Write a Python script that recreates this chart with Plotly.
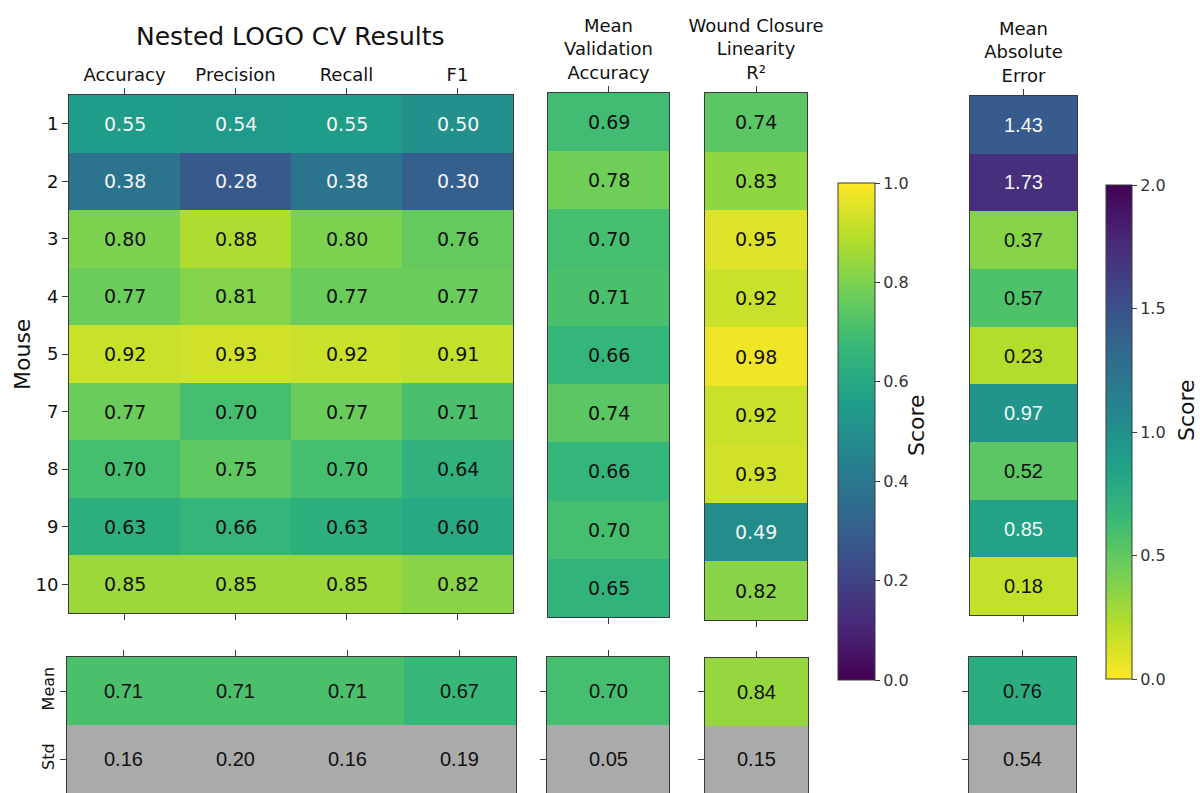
import plotly.graph_objects as go

W, H = 1200, 793

# ---- data -------------------------------------------------------------
metrics = ["Accuracy", "Precision", "Recall", "F1"]
mice = ["1", "2", "3", "4", "5", "7", "8", "9", "10"]
accuracy = [0.55, 0.38, 0.80, 0.77, 0.92, 0.77, 0.70, 0.63, 0.85]
precision = [0.54, 0.28, 0.88, 0.81, 0.93, 0.70, 0.75, 0.66, 0.85]
recall = [0.55, 0.38, 0.80, 0.77, 0.92, 0.77, 0.70, 0.63, 0.85]
f1 = [0.50, 0.30, 0.76, 0.77, 0.91, 0.71, 0.64, 0.60, 0.82]
mean_val_acc = [0.69, 0.78, 0.70, 0.71, 0.66, 0.74, 0.66, 0.70, 0.65]
r2 = [0.74, 0.83, 0.95, 0.92, 0.98, 0.92, 0.93, 0.49, 0.82]
mae = [1.43, 1.73, 0.37, 0.57, 0.23, 0.97, 0.52, 0.85, 0.18]

summary_rows = ["Mean", "Std"]
cv_mean = [0.71, 0.71, 0.71, 0.67]
cv_std = [0.16, 0.20, 0.16, 0.19]
mva_mean, mva_std = [0.70], [0.05]
r2_mean, r2_std = [0.84], [0.15]
mae_mean, mae_std = [0.76], [0.54]

mva_label = ["Mean<br>Validation<br>Accuracy"]
r2_label = ["Wound Closure<br>Linearity<br>R²"]
mae_label = ["Mean<br>Absolute<br>Error"]

# ---- styling helpers --------------------------------------------------
EDGE = "#3a3a3a"
GRAY = "#aaaaaa"
DARK_TXT = "#111111"
LIGHT_TXT = "#f4f4f4"


def px_x(p):
    return p / W


def px_y(p):
    return 1 - p / H


fig = go.Figure()
annotations = []

# panel boxes in pixels: (left, right, top, bottom)
panels = [
    # top blocks
    dict(box=(69, 513, 95, 613), x=metrics, y=mice,
         z=[list(r) for r in zip(accuracy, precision, recall, f1)],
         cax="coloraxis", zmax=1.0, rev=False, ylabels=True, yticks=True,
         font="DejaVu Sans", summary=False),
    dict(box=(548, 669, 93, 617), x=mva_label, y=mice,
         z=[[v] for v in mean_val_acc],
         cax="coloraxis", zmax=1.0, rev=False, ylabels=False, yticks=False,
         font="DejaVu Sans", summary=False),
    dict(box=(705, 807, 93, 620), x=r2_label, y=mice,
         z=[[v] for v in r2],
         cax="coloraxis", zmax=1.0, rev=False, ylabels=False, yticks=False,
         font="DejaVu Sans", summary=False),
    dict(box=(970, 1077, 96, 615), x=mae_label, y=mice,
         z=[[v] for v in mae],
         cax="coloraxis2", zmax=2.0, rev=True, ylabels=False, yticks=False,
         font="Liberation Sans", summary=False),
    # summary blocks (mean coloured, std gray)
    dict(box=(67, 516, 657, 793), x=metrics, y=summary_rows,
         z=[cv_mean, cv_std], cax="coloraxis", zmax=1.0, rev=False,
         ylabels=True, yticks=True, font="Liberation Sans", summary=True),
    dict(box=(547, 669, 657, 793), x=mva_label, y=summary_rows,
         z=[mva_mean, mva_std], cax="coloraxis", zmax=1.0, rev=False,
         ylabels=False, yticks=True, font="Liberation Sans", summary=True),
    dict(box=(705, 808, 658, 793), x=r2_label, y=summary_rows,
         z=[r2_mean, r2_std], cax="coloraxis", zmax=1.0, rev=False,
         ylabels=False, yticks=True, font="Liberation Sans", summary=True),
    dict(box=(969, 1076, 657, 793), x=mae_label, y=summary_rows,
         z=[mae_mean, mae_std], cax="coloraxis2", zmax=2.0, rev=True,
         ylabels=False, yticks=True, font="Liberation Sans", summary=True),
]


def norm(v, zmax, rev):
    t = v / zmax
    return 1 - t if rev else t


layout_axes = {}
for i, p in enumerate(panels, start=1):
    xa = "x" if i == 1 else f"x{i}"
    ya = "y" if i == 1 else f"y{i}"
    l, r, t, b = p["box"]
    ncol, nrow = len(p["x"]), len(p["y"])

    if p["summary"]:
        mean_row = [p["z"][0], [None] * ncol]
        std_row = [[None] * ncol, p["z"][1]]
        fig.add_trace(go.Heatmap(x=p["x"], y=p["y"], z=mean_row,
                                 coloraxis=p["cax"], xaxis=xa, yaxis=ya,
                                 hoverinfo="skip"))
        fig.add_trace(go.Heatmap(x=p["x"], y=p["y"], z=std_row,
                                 colorscale=[[0, GRAY], [1, GRAY]],
                                 showscale=False, xaxis=xa, yaxis=ya,
                                 hoverinfo="skip"))
    else:
        fig.add_trace(go.Heatmap(x=p["x"], y=p["y"], z=p["z"],
                                 coloraxis=p["cax"], xaxis=xa, yaxis=ya,
                                 hoverinfo="skip"))

    # cell value labels (placed by category index)
    for ri in range(nrow):
        for ci in range(ncol):
            v = p["z"][ri][ci]
            if p["summary"]:
                color = DARK_TXT
            else:
                color = LIGHT_TXT if norm(v, p["zmax"], p["rev"]) < 0.59 else DARK_TXT
            annotations.append(dict(
                x=ci, y=ri, xref=xa, yref=ya,
                xanchor="center", yanchor="middle",
                text=f"{v:.2f}", showarrow=False,
                font=dict(family=p["font"],
                          size=19 if p["font"] == "DejaVu Sans" else 20,
                          color=color)))

    xkey = "xaxis" if i == 1 else f"xaxis{i}"
    ykey = "yaxis" if i == 1 else f"yaxis{i}"
    layout_axes[xkey] = dict(
        domain=[px_x(l), px_x(r)], anchor=ya, type="category",
        range=[-0.5, ncol - 0.5], automargin=False,
        side="top", showgrid=False, zeroline=False,
        showline=True, linecolor=EDGE, linewidth=1,
        mirror=False if p["summary"] else "ticks",
        ticks="outside", ticklen=6, tickcolor=EDGE,
        showticklabels=not p["summary"],
        tickfont=dict(family="DejaVu Sans", size=18, color=DARK_TXT),
        fixedrange=True,
    )
    layout_axes[ykey] = dict(
        domain=[px_y(b), px_y(t)], anchor=xa, type="category",
        range=[nrow - 0.5, -0.5], automargin=False,
        showgrid=False, zeroline=False,
        showline=True, linecolor=EDGE, linewidth=1, mirror=True,
        ticks="outside" if p["yticks"] else "", ticklen=6, tickcolor=EDGE,
        showticklabels=p["ylabels"],
        tickangle=-90 if p["summary"] else 0,
        tickfont=dict(family="DejaVu Sans",
                      size=18 if not p["summary"] else 16, color=DARK_TXT),
        fixedrange=True,
    )

# titles and axis labels
label_font = dict(family="DejaVu Sans", size=22, color=DARK_TXT)
annotations += [
    dict(x=px_x(290), y=px_y(37), text="Nested LOGO CV Results",
         font=dict(family="DejaVu Sans", size=25, color=DARK_TXT)),
    dict(x=px_x(22), y=px_y(355), text="Mouse", textangle=-90, font=label_font),
    dict(x=px_x(916), y=px_y(425), text="Score", textangle=-90, font=label_font),
    dict(x=px_x(1186), y=px_y(410), text="Score", textangle=-90, font=label_font),
]
for a in annotations[-4:]:
    a.update(xref="paper", yref="paper", xanchor="center", yanchor="middle",
             showarrow=False)

cbar_common = dict(
    xanchor="left", xpad=0, ypad=0, yanchor="middle", lenmode="fraction",
    thicknessmode="pixels", outlinewidth=1, outlinecolor=EDGE,
    ticks="outside", ticklen=5, tickcolor=EDGE, tickformat=".1f",
    tickfont=dict(family="DejaVu Sans", size=16, color="#333333"),
)

fig.update_layout(
    width=W, height=H,
    margin=dict(l=0, r=0, t=0, b=0, autoexpand=False),
    paper_bgcolor="white", plot_bgcolor="white",
    showlegend=False,
    coloraxis=dict(
        colorscale="Viridis", cmin=0, cmax=1,
        colorbar=dict(x=px_x(838), y=1 - 431.5 / H, len=497 / H, thickness=37,
                      tickvals=[0, 0.2, 0.4, 0.6, 0.8, 1.0], **cbar_common),
    ),
    coloraxis2=dict(
        colorscale="Viridis", reversescale=True, cmin=0, cmax=2,
        colorbar=dict(x=px_x(1106), y=1 - 432 / H, len=494 / H, thickness=26,
                      tickvals=[0, 0.5, 1.0, 1.5, 2.0], **cbar_common),
    ),
    annotations=annotations,
    **layout_axes,
)

fig.write_html("out.html")
